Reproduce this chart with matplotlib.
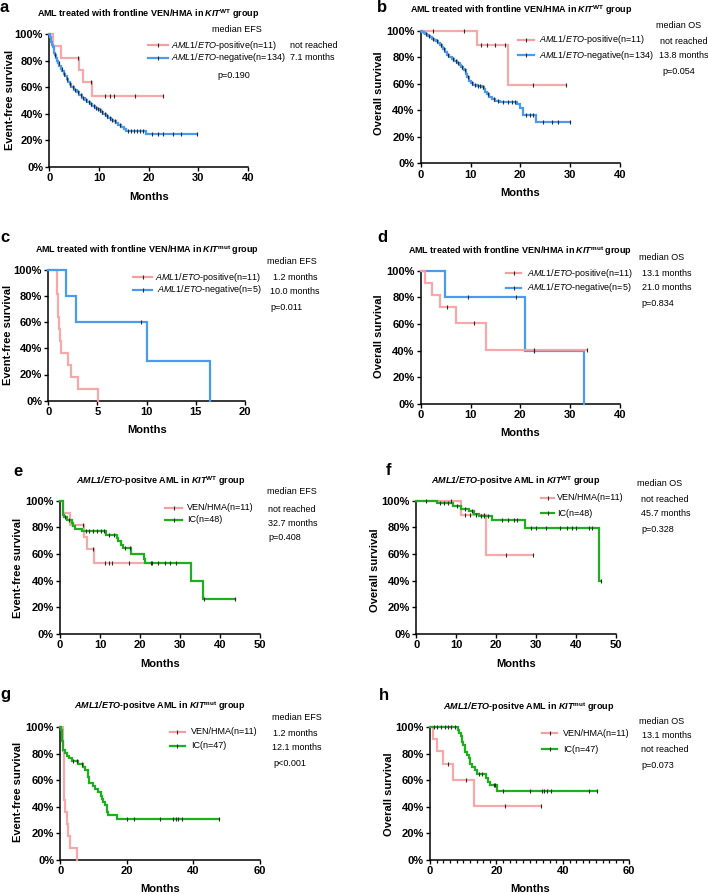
import matplotlib
matplotlib.use("Agg")
import matplotlib.pyplot as plt
from matplotlib.lines import Line2D
from matplotlib.ticker import MultipleLocator
import numpy as np

plt.rcParams["font.family"] = ["Liberation Sans", "DejaVu Sans"]
plt.rcParams["mathtext.fontset"] = "custom"
plt.rcParams["mathtext.rm"] = "Liberation Sans"
plt.rcParams["mathtext.it"] = "Liberation Sans:italic"
plt.rcParams["mathtext.bf"] = "Liberation Sans:bold"
plt.rcParams["mathtext.bfit"] = "Liberation Sans:italic:bold"

# ---- survival curves (event times in months, survival in %) ----
# VEN/HMA, AML1/ETO-positive, KIT WT
efs_wt_ven_t = [0.8, 2.4, 6.0, 6.8, 8.5]
efs_wt_ven_s = [90.9, 81.8, 72.7, 63.6, 53.0]
efs_wt_ven_c = [5.8, 8.3, 11.3, 12.2, 13.1, 17.2, 22.8]
efs_wt_ven_end = 22.8

os_wt_ven_t = [11.2, 17.5]
os_wt_ven_s = [88.9, 59.3]
os_wt_ven_c = [2.5, 8.6, 12.2, 13.4, 15.0, 16.9, 22.6, 29.2]
os_wt_ven_end = 29.2

# VEN/HMA, AML1/ETO-negative, KIT WT
efs_wt_neg_t = [0.1, 0.25, 0.4, 0.55, 0.7, 0.85, 1.0, 1.15, 1.3, 1.45,
                1.75, 2.05, 2.35, 2.65, 2.95, 3.25, 3.55, 3.85, 4.1, 4.4,
                5.0, 5.5, 6.0, 6.5, 7.1, 7.6, 8.1, 8.6, 9.1, 9.6, 10.0, 10.4, 10.9,
                11.4, 11.9, 12.4, 12.9, 13.4, 13.9, 14.5, 15.0, 15.5, 19.4]
efs_wt_neg_s = [98, 96, 94, 92, 90, 88, 86, 84, 82, 80,
                78, 76, 74, 72, 70, 68, 66, 64, 62, 60,
                58, 56, 54, 52, 50, 48.5, 47, 45.5, 44.5, 43.5, 42.5, 41.3, 40,
                38.5, 37, 35.5, 34.5, 33, 31.5, 30, 28.5, 27, 24.4]
efs_wt_neg_c = [1.2, 2.0, 2.5, 3.0, 3.6, 4.2, 4.7, 5.2, 5.7, 6.3, 6.8, 7.3, 7.9, 8.4,
                8.9, 9.4, 9.8, 10.2, 10.7, 11.2, 11.7, 12.2, 12.7, 13.2, 14.2, 15.8,
                16.4, 17.0, 17.6, 18.2, 18.8, 20.6, 21.8, 22.8, 24.9, 26.5, 29.8]
efs_wt_neg_end = 29.8

os_wt_neg_t = [0.3, 0.6, 0.9, 1.2, 1.5, 1.9, 2.3, 2.7, 3.0, 3.4, 3.8, 4.2, 4.5, 4.9,
               5.3, 5.7, 6.2, 6.7, 7.2, 7.8, 8.1, 8.4, 8.7, 9.0, 9.3, 9.7, 10.1, 10.5,
               11.3, 12.3, 12.7, 13.0, 13.3, 13.8, 14.4, 15.0, 16.0, 19.4, 19.9, 20.5, 23.1]
os_wt_neg_s = [99.2, 98.5, 97.8, 97, 96, 95, 94, 93, 92, 90.5, 89, 87.5, 86, 84,
               82, 80, 78.5, 77, 75.5, 74, 72.5, 71, 70, 67.5, 65, 62, 60.5, 59,
               58.2, 57.5, 56, 54, 52, 50, 48.5, 47, 46, 44.5, 41.5, 36.4, 31]
os_wt_neg_c = [1.0, 1.7, 2.5, 3.2, 4.0, 4.7, 5.5, 6.4, 7.0, 7.5, 8.2, 8.9, 9.5, 10.3,
               10.9, 11.6, 12.0, 12.5, 13.5, 14.7, 15.5, 16.6, 17.5, 18.3, 18.9, 21.2,
               22.0, 22.6, 24.5, 26.3, 27.5, 29.9]
os_wt_neg_end = 29.9

# KIT mut
efs_mut_ven_t = [0.85, 1.0, 1.1, 1.2, 1.3, 2.05, 2.3, 3.0, 5.1]
efs_mut_ven_s = [81.8, 63.6, 54.5, 45.5, 36.4, 27.3, 18.2, 9.1, 0]
efs_mut_ven_c = []
efs_mut_ven_end = 5.1

efs_mut_neg_t = [1.8, 2.8, 10.0, 16.4]
efs_mut_neg_s = [80, 60, 30, 0]
efs_mut_neg_c = [9.4]
efs_mut_neg_end = 16.4

os_mut_ven_t = [0.9, 2.2, 3.8, 7.0, 13.1]
os_mut_ven_s = [90.9, 81.8, 72.7, 60.6, 40.4]
os_mut_ven_c = [5.3, 10.7, 22.7, 33.4]
os_mut_ven_end = 33.4

os_mut_neg_t = [4.8, 21.0, 32.8]
os_mut_neg_s = [80, 40, 0]
os_mut_neg_c = [9.4, 19.2, 22.7]
os_mut_neg_end = 32.8

# intensive chemotherapy (IC)
efs_wt_ic_t = [0.7, 0.9, 1.7, 2.9, 3.2, 3.8, 5.4, 11.5, 14.2, 14.6, 15.2, 15.7,
               17.8, 21.0, 21.3, 32.7, 35.8]
efs_wt_ic_s = [89.6, 87.5, 85.4, 83.3, 81.2, 79.1, 77.0, 74.6, 72.0, 69.4, 66.9, 64.3,
               60.3, 56.3, 53.1, 39.8, 26.6]
efs_wt_ic_c = [1.3, 2.2, 6.5, 7.3, 8.2, 9.2, 10.2, 11.0, 12.3, 13.5, 16.2, 17.4,
               22.9, 24.6, 26.3, 27.5, 29.0, 35.9, 43.7]
efs_wt_ic_end = 43.7

os_wt_ic_t = [5.1, 9.3, 11.3, 13.2, 14.4, 15.6, 19.0, 27.2, 45.8]
os_wt_ic_s = [97.9, 95.7, 93.5, 91.9, 90.3, 88.6, 85.5, 79.6, 39.8]
os_wt_ic_c = [6.0, 7.0, 8.0, 10.2, 12.2, 14.0, 16.2, 17.0, 18.0, 21.4, 23.0, 24.6,
              25.2, 28.7, 30.0, 32.4, 36.0, 37.7, 39.0, 40.0, 43.3, 44.0, 46.4]
os_wt_ic_end = 46.4

efs_mut_ic_t = [0.3, 0.5, 0.8, 1.5, 2.0, 2.6, 3.4, 5.2, 6.9, 7.4, 8.3, 8.7, 9.9, 10.4,
                11.2, 12.1, 12.5, 12.9, 13.3, 13.9, 14.4, 16.9]
efs_mut_ic_s = [97.9, 89.4, 83.0, 80.9, 78.7, 76.6, 74.5, 72.3, 70.0, 67.6, 62.9, 58.1,
                55.7, 53.3, 50.9, 48.5, 46.1, 43.6, 41.2, 36.2, 33.6, 30.8]
efs_mut_ic_c = [3.9, 4.9, 6.4, 20.0, 22.1, 30.0, 33.8, 34.7, 35.5, 36.5, 47.8]
efs_mut_ic_end = 47.8

os_mut_ic_t = [8.3, 8.7, 9.2, 9.7, 10.0, 10.5, 11.2, 11.7, 12.0, 12.7, 13.4, 14.2,
               16.9, 17.5, 18.0, 20.3]
os_mut_ic_s = [97.8, 95.5, 93.2, 88.6, 86.3, 81.7, 79.3, 77.0, 72.4, 70.0, 67.7, 64.5,
               62.0, 58.7, 56.2, 52.0]
os_mut_ic_c = [1.2, 2.2, 3.4, 4.4, 5.4, 6.4, 7.4, 14.7, 15.7, 19.2, 19.7, 22.0, 30.0,
               33.7, 34.4, 35.2, 36.4, 47.8, 50.2]
os_mut_ic_end = 50.2

# ---- text ----
title_vh_wt = r"AML treated with frontline VEN/HMA in $\mathbfit{KIT}^{\mathbf{WT}}$ group"
title_vh_mut = r"AML treated with frontline VEN/HMA in $\mathbfit{KIT}^{\mathbf{mut}}$ group"
title_pos_wt = r"$\mathbfit{AML1/ETO}$-positve AML in $\mathbfit{KIT}^{\mathbf{WT}}$ group"
title_pos_mut = r"$\mathbfit{AML1/ETO}$-positve AML in $\mathbfit{KIT}^{\mathbf{mut}}$ group"
lab_pos = r"$\mathit{AML1/ETO}$-positive(n=11)"
lab_neg134 = r"$\mathit{AML1/ETO}$-negative(n=134)"
lab_neg5 = r"$\mathit{AML1/ETO}$-negative(n=5)"

y_ticks = [0, 20, 40, 60, 80, 100]
y_tick_labels = [f"{v}%" for v in y_ticks]

PINK = "#F59FA2"
BLUE = "#4A9AEE"
GREEN = "#1EAF1E"
TICK = "#2a2a2a"

W, H = 708, 894
fig = plt.figure(figsize=(W / 100, H / 100), dpi=100)


def fx(x):
    return x / W


def fy(y):
    return 1 - y / H


def survival_at(times, surv, when):
    levels = np.r_[100.0, surv]
    idx = np.searchsorted(np.asarray(times, dtype=float), when, side="right")
    return levels[idx]


def draw_curve(ax, times, surv, cens, end, color, alpha=1.0):
    x = np.r_[0.0, times, end]
    y = np.r_[100.0, surv, surv[-1]]
    ax.step(x, y, where="post", color=color, lw=1.6, alpha=alpha,
            clip_on=False, solid_joinstyle="miter", zorder=3)
    if len(cens):
        cy = survival_at(times, surv, np.asarray(cens))
        ax.plot(cens, cy, linestyle="none", marker="|", ms=3.2, mew=0.8,
                color=TICK, clip_on=False, zorder=4)


panels = [
    dict(letter="a", letter_xy=(0, 12), box=(49.3, 248, 34, 166.7), xmax=40, xstep=10,
         ylabel="Event-free survival", ylab_xy=(10, 100), months_y=197,
         title=title_vh_wt, title_xy=(148, 17),
         curves=[(efs_wt_ven_t, efs_wt_ven_s, efs_wt_ven_c, efs_wt_ven_end, PINK),
                 (efs_wt_neg_t, efs_wt_neg_s, efs_wt_neg_c, efs_wt_neg_end, BLUE)],
         header=("median EFS", 237, 30, "center"),
         legend=[(lab_pos, PINK, 148, 168, 171, 45), (lab_neg134, BLUE, 148, 168, 171, 58)],
         medians=[("not reached", 290, 45), ("7.1 months", 290, 58)],
         pval=("p=0.190", 234, 76, "center")),
    dict(letter="b", letter_xy=(377, 12), box=(420.7, 620, 30.7, 163.3), xmax=40, xstep=10,
         ylabel="Overall survival", ylab_xy=(379, 93), months_y=193,
         title=title_vh_wt, title_xy=(521, 13),
         curves=[(os_wt_ven_t, os_wt_ven_s, os_wt_ven_c, os_wt_ven_end, PINK),
                 (os_wt_neg_t, os_wt_neg_s, os_wt_neg_c, os_wt_neg_end, BLUE)],
         header=("median OS", 679, 25, "center"),
         legend=[(lab_pos, PINK, 518, 534, 539, 40), (lab_neg134, BLUE, 518, 534, 539, 55)],
         medians=[("not reached", 660, 42), ("13.8 months", 659, 55)],
         pval=("p=0.054", 679, 72, "center")),
    dict(letter="c", letter_xy=(0, 242), box=(48.3, 245, 269.7, 400.7), xmax=20, xstep=5,
         ylabel="Event-free survival", ylab_xy=(8, 335), months_y=430,
         title=title_vh_mut, title_xy=(147, 253),
         curves=[(efs_mut_ven_t, efs_mut_ven_s, efs_mut_ven_c, efs_mut_ven_end, PINK),
                 (efs_mut_neg_t, efs_mut_neg_s, efs_mut_neg_c, efs_mut_neg_end, BLUE)],
         header=("median EFS", 267, 261, "left"),
         legend=[(lab_pos, PINK, 133, 152, 155, 277), (lab_neg5, BLUE, 133, 152, 157, 290)],
         medians=[("1.2 months", 273, 277), ("10.0 months", 270, 291)],
         pval=("p=0.011", 270, 307, "left")),
    dict(letter="d", letter_xy=(377, 242), box=(420.7, 620, 270.7, 404), xmax=40, xstep=10,
         ylabel="Overall survival", ylab_xy=(379, 336), months_y=433,
         title=title_vh_mut, title_xy=(520, 254),
         curves=[(os_mut_neg_t, os_mut_neg_s, os_mut_neg_c, os_mut_neg_end, BLUE),
                 (os_mut_ven_t, os_mut_ven_s, os_mut_ven_c, os_mut_ven_end, PINK)],
         header=("median OS", 639, 257, "left"),
         legend=[(lab_pos, PINK, 506, 521, 527, 273), (lab_neg5, BLUE, 506, 521, 527, 288)],
         medians=[("13.1 months", 642, 273), ("21.0 months", 642, 288)],
         pval=("p=0.834", 641, 304, "left")),
    dict(letter="e", letter_xy=(13, 476), box=(60, 260, 500.7, 634), xmax=50, xstep=10,
         ylabel="Event-free survival", ylab_xy=(18, 568), months_y=664,
         title=title_pos_wt, title_xy=(161, 484),
         curves=[(efs_wt_ven_t, efs_wt_ven_s, efs_wt_ven_c, efs_wt_ven_end, PINK),
                 (efs_wt_ic_t, efs_wt_ic_s, efs_wt_ic_c, efs_wt_ic_end, GREEN)],
         header=("median EFS", 267, 492, "left"),
         legend=[("VEN/HMA(n=11)", PINK, 165, 182, 187, 508), ("IC(n=48)", GREEN, 165, 182, 187, 520)],
         medians=[("not reached", 268, 509), ("32.7 months", 268, 523)],
         pval=("p=0.408", 268, 538, "left")),
    dict(letter="f", letter_xy=(386, 475), box=(416.3, 615.7, 500.7, 634), xmax=50, xstep=10,
         ylabel="Overall survival", ylab_xy=(375, 570), months_y=664,
         title=title_pos_wt, title_xy=(516, 484),
         curves=[(os_wt_ven_t, os_wt_ven_s, os_wt_ven_c, os_wt_ven_end, PINK),
                 (os_wt_ic_t, os_wt_ic_s, os_wt_ic_c, os_wt_ic_end, GREEN)],
         header=("median OS", 637, 483, "left"),
         legend=[("VEN/HMA(n=11)", PINK, 541, 554, 557, 498), ("IC(n=48)", GREEN, 541, 554, 557, 513)],
         medians=[("not reached", 641, 500), ("45.7 months", 641, 514)],
         pval=("p=0.328", 641, 530, "left")),
    dict(letter="g", letter_xy=(0, 699), box=(60.3, 260, 727.3, 860), xmax=60, xstep=20,
         ylabel="Event-free survival", ylab_xy=(18, 792), months_y=889,
         title=title_pos_mut, title_xy=(160, 709),
         curves=[(efs_mut_ven_t, efs_mut_ven_s, efs_mut_ven_c, efs_mut_ven_end, PINK),
                 (efs_mut_ic_t, efs_mut_ic_s, efs_mut_ic_c, efs_mut_ic_end, GREEN)],
         header=("median EFS", 272, 718, "left"),
         legend=[("VEN/HMA(n=11)", PINK, 170, 185, 191, 732), ("IC(n=47)", GREEN, 170, 185, 191, 746)],
         medians=[("1.2 months", 273, 733), ("12.1 months", 272, 748)],
         pval=("p<0.001", 273, 764, "left")),
    dict(letter="h", letter_xy=(379, 700), box=(430, 629.3, 727.3, 860), xmax=60, xstep=20,
         ylabel="Overall survival", ylab_xy=(389, 794), months_y=889, minor=2,
         title=title_pos_mut, title_xy=(529, 710),
         curves=[(os_mut_ven_t, os_mut_ven_s, os_mut_ven_c, os_mut_ven_end, PINK),
                 (os_mut_ic_t, os_mut_ic_s, os_mut_ic_c, os_mut_ic_end, GREEN)],
         header=("median OS", 639, 721, "left"),
         legend=[("VEN/HMA(n=11)", PINK, 542, 557, 563, 733), ("IC(n=47)", GREEN, 542, 557, 563, 749)],
         medians=[("13.1 months", 642, 736), ("not reached", 641, 750)],
         pval=("p=0.073", 641, 766, "left")),
]

SMALL = 6.5

for p in panels:
    x0, x1, y0, y1 = p["box"]
    ax = fig.add_axes([fx(x0), fy(y1), (x1 - x0) / W, (y1 - y0) / H])
    for times, surv, cens, end, color in p["curves"]:
        draw_curve(ax, times, surv, cens, end, color, alpha=0.9 if color == PINK else 1.0)

    ax.set_xlim(0, p["xmax"])
    ax.set_ylim(0, 100)
    ax.set_xticks(np.arange(0, p["xmax"] + 1, p["xstep"]))
    ax.set_yticks(y_ticks)
    ax.set_yticklabels(y_tick_labels)
    if p.get("minor"):
        ax.xaxis.set_minor_locator(MultipleLocator(p["minor"]))
        ax.tick_params(axis="x", which="minor", length=2.2, width=0.9)
    ax.spines["top"].set_visible(False)
    ax.spines["right"].set_visible(False)
    for s in ("left", "bottom"):
        ax.spines[s].set_linewidth(1.1)
    ax.tick_params(which="major", length=3, width=1.0, pad=1.5, labelsize=8)
    for lab in ax.get_xticklabels() + ax.get_yticklabels():
        lab.set_fontweight("bold")
    ax.patch.set_visible(False)

    # panel letter, title, axis labels
    fig.text(fx(p["letter_xy"][0]), fy(p["letter_xy"][1]), p["letter"], fontsize=12,
             fontweight="bold", ha="left", va="baseline")
    fig.text(fx(p["title_xy"][0]), fy(p["title_xy"][1]), p["title"], fontsize=6.5,
             fontweight="bold", ha="center", va="baseline")
    fig.text(fx(p["ylab_xy"][0]), fy(p["ylab_xy"][1]), p["ylabel"], fontsize=8,
             fontweight="bold", rotation=90, ha="center", va="center")
    fig.text(fx((x0 + x1) / 2), fy(p["months_y"]), "Months", fontsize=8,
             fontweight="bold", ha="center", va="center")

    # legend and median annotations
    txt, hx, hy, ha = p["header"]
    fig.text(fx(hx), fy(hy), txt, fontsize=SMALL, ha=ha, va="center")
    for label, color, lx0, lx1, tx, ly in p["legend"]:
        fig.add_artist(Line2D([fx(lx0), fx(lx1)], [fy(ly), fy(ly)], color=color, lw=1.6,
                              transform=fig.transFigure))
        fig.add_artist(Line2D([fx((lx0 + lx1) / 2)], [fy(ly)], marker="|", ms=3.2, mew=0.8,
                              color=TICK, transform=fig.transFigure))
        fig.text(fx(tx), fy(ly), label, fontsize=SMALL, ha="left", va="center")
    for txt, mx, my in p["medians"]:
        fig.text(fx(mx), fy(my), txt, fontsize=SMALL, ha="left", va="center")
    txt, px, py, ha = p["pval"]
    fig.text(fx(px), fy(py), txt, fontsize=SMALL, ha=ha, va="center")

fig.savefig("out.png", dpi=100)
